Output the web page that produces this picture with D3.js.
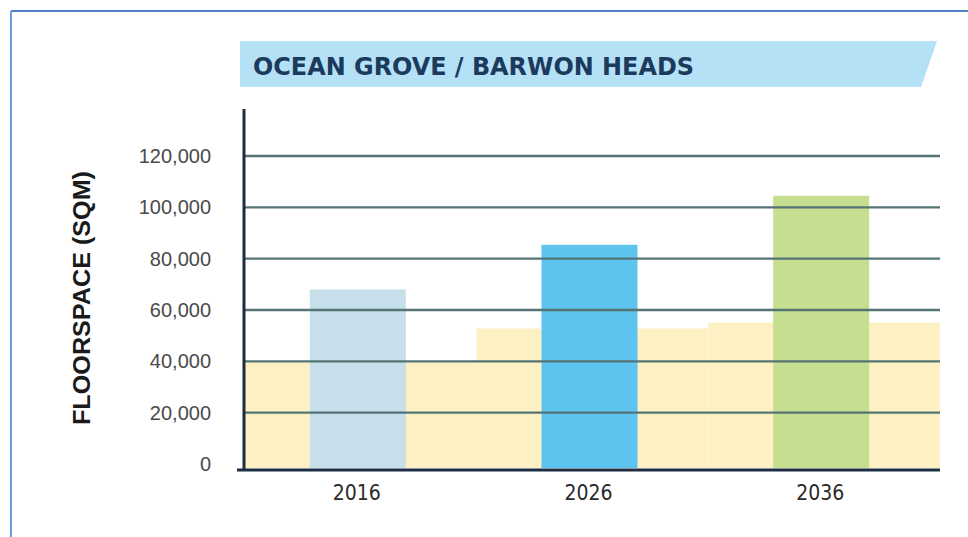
<!DOCTYPE html>
<html>
<head>
<meta charset="utf-8">
<script src="https://cdn.jsdelivr.net/npm/d3@7"></script>
<style>
  body { margin: 0; background: #fff; }
  svg { display: block; }
</style>
</head>
<body>
<svg id="chart"></svg>
<script>
// chart data
const years = ["2016", "2026", "2036"];
const floorspace = [68000, 85400, 104500];
const existing = [40000, 52800, 55100];
const yTicks = [0, 20000, 40000, 60000, 80000, 100000, 120000];
const title = "OCEAN GROVE / BARWON HEADS";
const yTitle = "FLOORSPACE (SQM)";

const barColors = ["#c6dfea", "#5cc4ee", "#c6de8f"];

const width = 968, height = 537;
const svg = d3.select("#chart").attr("width", width).attr("height", height);

// outer frame (only top and left show)
svg.append("line").attr("x1", 11).attr("x2", width).attr("y1", 11).attr("y2", 11)
  .attr("stroke", "#4f82c9").attr("stroke-width", 2);
svg.append("line").attr("x1", 11).attr("x2", 11).attr("y1", 11).attr("y2", height)
  .attr("stroke", "#6a9ddd").attr("stroke-width", 2);

// scales
const x = d3.scaleBand().domain(years).range([245, 940]).paddingInner(0).paddingOuter(0);
const y = d3.scaleLinear().domain([0, 120000]).range([464, 156]);

// title banner
svg.append("polygon")
  .attr("points", [[240, 41], [937, 41], [921, 87], [240, 87]].map(p => p.join(",")).join(" "))
  .attr("fill", "#b5e1f7");
svg.append("text")
  .attr("x", 253).attr("y", 75)
  .attr("font-family", "'Liberation Sans Narrow', 'DejaVu Sans Condensed', sans-serif")
  .attr("font-weight", "bold").attr("font-size", 24)
  .attr("fill", "#1b3a5c")
  .attr("textLength", 441).attr("lengthAdjust", "spacingAndGlyphs")
  .text(title);

// yellow background steps (existing floorspace)
svg.selectAll(".step")
  .data(years)
  .enter()
  .append("rect")
  .attr("class", "step")
  .attr("x", d => x(d))
  .attr("width", x.bandwidth())
  .attr("y", (d, i) => y(existing[i]))
  .attr("height", (d, i) => y(0) - y(existing[i]) + 4)
  .attr("fill", "#fdf1c4");

// bars
const barW = 96;
svg.selectAll(".bar")
  .data(years)
  .enter()
  .append("rect")
  .attr("class", "bar")
  .attr("x", d => x(d) + x.bandwidth() / 2 - barW / 2 - 3)
  .attr("width", barW)
  .attr("y", (d, i) => y(floorspace[i]))
  .attr("height", (d, i) => y(0) - y(floorspace[i]) + 4)
  .attr("fill", (d, i) => barColors[i]);

// gridlines
svg.selectAll(".grid")
  .data(yTicks.slice(1))
  .enter()
  .append("line")
  .attr("x1", 245).attr("x2", 940)
  .attr("y1", d => y(d)).attr("y2", d => y(d))
  .attr("stroke", "#557474").attr("stroke-width", 2.4);

// y tick labels
svg.selectAll(".ylab")
  .data(yTicks)
  .enter()
  .append("text")
  .attr("x", 211)
  .attr("y", d => y(d) + 7)
  .attr("text-anchor", "end")
  .attr("font-family", "'Liberation Sans', Arial, sans-serif")
  .attr("font-size", 20)
  .attr("fill", "#4a4a4a")
  .text(d => d3.format(",")(d));

// axes lines
svg.append("line").attr("x1", 244).attr("x2", 244).attr("y1", 109).attr("y2", y(0) + 7)
  .attr("stroke", "#1c2d44").attr("stroke-width", 3);
svg.append("line").attr("x1", 237).attr("x2", 940).attr("y1", y(0) + 6).attr("y2", y(0) + 6)
  .attr("stroke", "#1c2d44").attr("stroke-width", 3);

// x labels
svg.selectAll(".xlab")
  .data(years)
  .enter()
  .append("text")
  .attr("x", d => x(d) + x.bandwidth() / 2 - 4)
  .attr("y", 500)
  .attr("text-anchor", "middle")
  .attr("font-family", "'Liberation Sans Narrow', 'DejaVu Sans Condensed', sans-serif")
  .attr("font-size", 21)
  .attr("fill", "#2a2a2a")
  .text(d => d);

// y title
svg.append("text")
  .attr("transform", "translate(90,298) rotate(-90)")
  .attr("text-anchor", "middle")
  .attr("font-family", "'Liberation Sans', Arial, sans-serif")
  .attr("font-weight", "bold").attr("font-size", 23)
  .attr("fill", "#1a1a1a")
  .attr("textLength", 254).attr("lengthAdjust", "spacingAndGlyphs")
  .text(yTitle);
</script>
</body>
</html>
